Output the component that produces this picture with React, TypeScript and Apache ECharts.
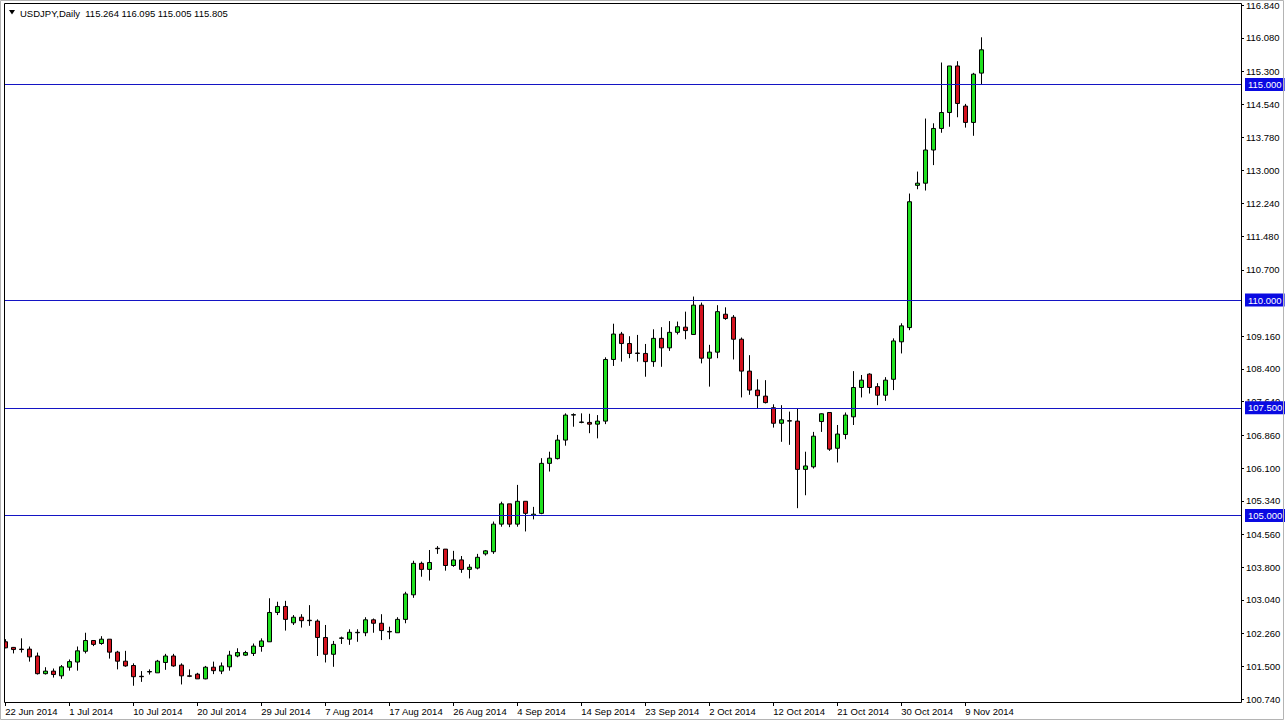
import React, { useEffect, useRef } from "react";
import * as echarts from "echarts";

// ---- Data ----
const SYMBOL = "USDJPY";
const PERIOD = "Daily";
const START_DATE = "2014-06-22"; // first bar (Sunday); forex bars run Sunday..Friday
const TOTAL_SLOTS = 155; // bars + empty space to the right edge of the chart
const LABEL_EVERY = 8;
const LAST_LABELLED = 120;

const OPEN = [
  102.07, 101.94, 101.9, 101.9, 101.74, 101.33, 101.39, 101.28, 101.48, 101.6,
  101.85, 102.1, 102.03, 102.13, 101.83, 101.62, 101.52, 101.27, 101.37, 101.35,
  101.59, 101.74, 101.53, 101.28, 101.32, 101.21, 101.48, 101.39, 101.49, 101.74,
  101.76, 101.8, 101.96, 102.07, 102.75, 102.89, 102.51, 102.64, 102.57, 102.55,
  102.17, 101.78, 102.15, 102.13, 102.28, 102.28, 102.58, 102.5, 102.31, 102.28,
  102.59, 103.16, 103.89, 103.75, 104.24, 104.22, 103.84, 103.97, 103.75, 103.78,
  104.11, 104.16, 104.8, 105.27, 104.8, 105.33, 105.0, 105.05, 106.21, 106.32,
  106.75, 107.33, 107.16, 107.16, 107.12, 107.19, 108.62, 109.21, 108.99, 108.77,
  108.76, 108.57, 109.11, 108.89, 109.25, 109.37, 109.2, 109.88, 108.65, 108.79,
  109.67, 109.6, 109.09, 108.35, 107.91, 107.77, 107.5, 107.14, 107.2, 107.19,
  106.07, 106.13, 107.18, 107.39, 106.56, 106.88, 107.29, 107.97, 108.28, 107.99,
  107.79, 108.16, 109.03, 109.36, 112.66, 112.71, 113.48, 113.98, 114.35, 115.43,
  114.5, 114.12, 115.264,
];
const CLOSE = [
  101.93, 101.89, 101.89, 101.72, 101.33, 101.39, 101.31, 101.49, 101.61, 101.86,
  102.1, 102.01, 102.13, 101.83, 101.62, 101.51, 101.26, 101.26, 101.38, 101.62,
  101.74, 101.51, 101.28, 101.27, 101.21, 101.48, 101.4, 101.51, 101.76, 101.82,
  101.82, 101.97, 102.09, 102.75, 102.89, 102.59, 102.64, 102.56, 102.56, 102.17,
  101.78, 102.01, 102.16, 102.29, 102.29, 102.58, 102.5, 102.33, 102.3, 102.59,
  103.18, 103.89, 103.75, 103.91, 104.23, 103.84, 103.97, 103.75, 103.8, 104.03,
  104.18, 104.8, 105.27, 104.8, 105.33, 105.05, 105.03, 106.21, 106.33, 106.75,
  107.33, 107.34, 107.17, 107.12, 107.19, 108.62, 109.21, 108.99, 108.76, 108.76,
  108.57, 109.11, 108.89, 109.25, 109.38, 109.29, 109.88, 108.65, 108.79, 109.73,
  109.57, 109.09, 108.35, 107.91, 107.78, 107.62, 107.14, 107.22, 107.19, 106.07,
  106.15, 106.84, 107.36, 106.54, 106.89, 107.33, 107.97, 108.14, 107.97, 107.79,
  108.14, 109.05, 109.4, 112.28, 112.71, 113.48, 113.98, 114.35, 115.43, 114.56,
  114.12, 115.24, 115.805,
];
const LOW = [
  101.92, 101.8, 101.82, 101.61, 101.31, 101.31, 101.24, 101.21, 101.4, 101.4,
  101.8, 101.97, 102.0, 101.68, 101.43, 101.49, 101.05, 101.14, 101.31, 101.35,
  101.42, 101.49, 101.08, 101.25, 101.21, 101.2, 101.32, 101.32, 101.4, 101.71,
  101.74, 101.74, 101.84, 102.07, 102.69, 102.33, 102.46, 102.4, 102.44, 101.74,
  101.59, 101.49, 102.02, 102.0, 102.07, 102.2, 102.28, 102.11, 102.13, 102.28,
  102.5, 103.09, 103.58, 103.49, 104.11, 103.72, 103.81, 103.67, 103.54, 103.75,
  104.07, 104.11, 104.74, 104.73, 104.74, 104.63, 104.91, 105.03, 106.02, 106.3,
  106.62, 107.06, 107.14, 106.91, 106.79, 107.12, 108.47, 108.57, 108.65, 108.57,
  108.22, 108.45, 108.45, 108.82, 109.2, 109.09, 109.19, 108.53, 107.99, 108.65,
  109.54, 108.62, 107.74, 107.8, 107.49, 107.6, 107.04, 106.71, 106.64, 105.17,
  105.47, 106.09, 106.94, 106.5, 106.23, 106.77, 107.1, 107.74, 107.83, 107.56,
  107.66, 107.91, 108.76, 109.3, 112.57, 112.54, 113.13, 113.88, 114.02, 114.24,
  114.0, 113.81, 115.005,
];
const HIGH = [
  102.13, 101.95, 102.15, 101.96, 101.82, 101.48, 101.45, 101.53, 101.66, 101.96,
  102.28, 102.1, 102.2, 102.13, 101.86, 101.86, 101.57, 101.39, 101.43, 101.65,
  101.79, 101.79, 101.57, 101.43, 101.35, 101.51, 101.61, 101.59, 101.86, 101.92,
  101.86, 102.03, 102.15, 103.08, 103.0, 103.02, 102.69, 102.71, 102.92, 102.59,
  102.46, 102.09, 102.19, 102.36, 102.36, 102.64, 102.61, 102.71, 102.42, 102.64,
  103.23, 103.95, 103.93, 104.2, 104.29, 104.22, 104.18, 104.06, 103.87, 104.11,
  104.2, 104.86, 105.32, 105.27, 105.71, 105.33, 105.2, 106.33, 106.48, 106.87,
  107.37, 107.37, 107.37, 107.36, 107.33, 108.67, 109.45, 109.26, 109.16, 109.19,
  108.98, 109.32, 109.37, 109.51, 109.5, 109.73, 110.08, 109.94, 108.96, 109.88,
  109.83, 109.65, 109.13, 108.72, 108.16, 108.14, 107.58, 107.56, 107.41, 107.49,
  106.48, 106.94, 107.37, 107.39, 107.1, 107.39, 108.35, 108.26, 108.3, 108.07,
  108.21, 109.11, 109.46, 112.47, 112.98, 114.21, 114.1, 115.51, 115.43, 115.54,
  114.55, 115.27, 116.095,
];

const LEVELS = [105.0, 107.5, 110.0, 115.0];
const Y_TICKS = [
  100.74, 101.5, 102.26, 103.04, 103.8, 104.56, 105.34, 106.1, 106.86, 107.64,
  108.4, 109.16, 110.7, 111.48, 112.24, 113.0, 113.78, 114.54, 115.3, 116.08, 116.84,
];
const Y_MIN = 100.673;
const Y_MAX = 116.891;

// ---- Styling ----
const FONT = "Liberation Sans";
const FS = 9.5;
const UP = "#1fe01f";
const DOWN = "#d3121e";
const LINE_BLUE = "#1414c4";
const BOX_BLUE = "#0a0ae2";
const FRAME_L = 4.5;
const FRAME_R = 1241.5;
const FRAME_T = 3.5;
const FRAME_B = 702.5;

const MONTHS = ["Jan", "Feb", "Mar", "Apr", "May", "Jun", "Jul", "Aug", "Sep", "Oct", "Nov", "Dec"];
function tradingDays(start: string, n: number): string[] {
  const out: string[] = [];
  const d = new Date(start + "T00:00:00Z");
  while (out.length < n) {
    if (d.getUTCDay() !== 6) {
      out.push(`${d.getUTCDate()} ${MONTHS[d.getUTCMonth()]} ${d.getUTCFullYear()}`);
    }
    d.setUTCDate(d.getUTCDate() + 1);
  }
  return out;
}

export default function App() {
  const ref = useRef<HTMLDivElement>(null);
  useEffect(() => {
    if (!ref.current) return;
    const chart = echarts.init(ref.current, null, { renderer: "svg" });
    const dates = tradingDays(START_DATE, TOTAL_SLOTS);
    const candles = OPEN.map((o, i) => [o, CLOSE[i], LOW[i], HIGH[i]]);
    const n = OPEN.length - 1;
    const showTick = (idx: number) => idx % LABEL_EVERY === 0 && idx <= LAST_LABELLED;
    const header = `${SYMBOL},${PERIOD}  ${OPEN[n].toFixed(3)} ${HIGH[n].toFixed(3)} ${LOW[n].toFixed(3)} ${CLOSE[n].toFixed(3)}`;

    const levelLines: any[] = LEVELS.map((v) => [
      { yAxis: v, x: FRAME_L, value: v },
      { yAxis: v, x: FRAME_R - 0.5 },
    ]);
    levelLines.push([
      {
        yAxis: CLOSE[n],
        x: FRAME_L,
        value: CLOSE[n],
        lineStyle: { opacity: 0 },
        label: { backgroundColor: "#000000" },
      },
      { yAxis: CLOSE[n], x: FRAME_R - 0.5 },
    ]);

    chart.setOption({
      animation: false,
      backgroundColor: "#ffffff",
      grid: { left: 5.3, top: 3, width: 1232, height: 699, outerBoundsMode: "none", containLabel: false },
      xAxis: {
        type: "category",
        data: dates,
        boundaryGap: false,
        axisLine: { show: false },
        axisTick: { show: true, interval: showTick, length: 4, lineStyle: { color: "#000" } },
        axisLabel: {
          interval: showTick,
          align: "left",
          margin: 4,
          color: "#000",
          fontSize: FS,
          fontFamily: FONT,
        },
        splitLine: { show: false },
      },
      yAxis: {
        type: "value",
        position: "right",
        min: Y_MIN,
        max: Y_MAX,
        offset: 3.7,
        scale: true,
        splitLine: { show: false },
        axisLine: { show: false },
        axisTick: { show: true, inside: false, length: 3, customValues: Y_TICKS, lineStyle: { color: "#000" } },
        axisLabel: {
          customValues: Y_TICKS,
          formatter: (v: number) => v.toFixed(3),
          margin: 5,
          color: "#000",
          fontSize: FS,
          fontFamily: FONT,
        },
      },
      series: [
        {
          type: "candlestick",
          data: candles,
          barWidth: 5,
          clip: false,
          itemStyle: {
            color: UP,
            color0: DOWN,
            borderColor: "#000000",
            borderColor0: "#000000",
            borderWidth: 1,
          },
          markLine: {
            silent: true,
            symbol: ["none", "none"],
            animation: false,
            lineStyle: { color: LINE_BLUE, width: 1, type: "solid" },
            label: {
              show: true,
              position: "end",
              distance: 4,
              formatter: (p: any) => Number(p.value).toFixed(3),
              color: "#ffffff",
              backgroundColor: BOX_BLUE,
              padding: [2, 3, 1, 3],
              fontSize: FS,
              fontFamily: FONT,
            },
            emphasis: { disabled: true },
            data: levelLines,
          },
        },
      ],
      graphic: [
        { type: "rect", shape: { x: 0, y: 0, width: 4, height: 722 }, style: { fill: "#ffffff" }, z: 100 },
        {
          type: "rect",
          shape: { x: FRAME_L, y: FRAME_T, width: FRAME_R - FRAME_L, height: FRAME_B - FRAME_T },
          style: { fill: "none", stroke: "#000000", lineWidth: 1 },
          z: 101,
        },
        {
          type: "rect",
          shape: { x: 0.5, y: 0.5, width: 1283, height: 719 },
          style: { fill: "none", stroke: "#b4b4b4", lineWidth: 1 },
          z: 101,
        },
        {
          type: "polygon",
          shape: { points: [[9, 10], [15, 10], [12, 14.5]] },
          style: { fill: "#000000" },
          z: 102,
        },
        {
          type: "text",
          x: 20,
          y: 13,
          style: {
            text: header,
            fontSize: FS,
            fontFamily: FONT,
            fill: "#000000",
            verticalAlign: "middle",
            align: "left",
          },
          z: 102,
        },
      ],
    });
    return () => chart.dispose();
  }, []);
  return (
    <div
      ref={ref}
      style={{ position: "fixed", left: 0, top: 0, width: 1285, height: 722, background: "#fff" }}
    />
  );
}
